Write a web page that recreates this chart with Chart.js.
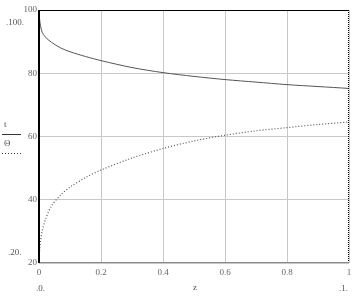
<!DOCTYPE html>
<html><head><meta charset="utf-8">
<script src="https://cdn.jsdelivr.net/npm/chart.js@4/dist/chart.umd.min.js"></script>
<style>html,body{margin:0;padding:0;background:#fff}#wrap{width:364px;height:298px}</style>
</head><body><div id="wrap"><canvas id="c" width="364" height="298"></canvas></div>
<script>
const zValues = [0,0.002,0.005,0.01,0.02,0.04,0.07,0.1,0.15,0.2,0.3,0.4,0.5,0.6,0.7,0.8,0.9,1];
const tValues = [100,97,95,93,91.5,89.8,88,86.8,85.3,84,81.8,80.2,79,78,77.2,76.4,75.8,75.2];
const thetaValues = [20,24,27,30,33.5,38,41.5,44,47,49.4,53.2,56.2,58.6,60.4,61.8,62.8,63.8,64.6];
const yTicks = [20,40,60,80,100];
const xTicks = [0,0.2,0.4,0.6,0.8,1];

const pts = v => zValues.map((z,i)=>({x:z,y:v[i]}));
const font = "Liberation Serif";

const extras = {
  id:'extras',
  afterDraw(chart){
    const ctx = chart.ctx, a = chart.chartArea;
    ctx.save();
    // frame
    ctx.lineWidth = 1;
    ctx.strokeStyle = '#000';
    ctx.beginPath(); ctx.moveTo(a.left, a.top+0.5); ctx.lineTo(a.right, a.top+0.5); ctx.stroke();
    ctx.setLineDash([1,1]);
    ctx.beginPath(); ctx.moveTo(a.right-0.5, a.top); ctx.lineTo(a.right-0.5, a.bottom); ctx.stroke();
    ctx.setLineDash([]);
    ctx.strokeStyle = '#888';
    ctx.beginPath(); ctx.moveTo(a.left, a.bottom-0.5); ctx.lineTo(a.right, a.bottom-0.5); ctx.stroke();
    ctx.strokeStyle = '#000'; ctx.lineWidth = 2;
    ctx.beginPath(); ctx.moveTo(a.left, a.top); ctx.lineTo(a.left, a.bottom); ctx.stroke();
    // labels
    ctx.fillStyle = '#555';
    ctx.font = '9px "'+font+'"';
    ctx.textBaseline = 'middle';
    ctx.textAlign = 'left';
    ctx.fillText('.100.', 6, 23);
    ctx.fillText('.20.', 8, 253);
    ctx.fillText('.0.', 36, 289);
    ctx.fillText('.1.', 339, 289);
    ctx.fillText('z', 193, 288);
    ctx.fillText('t', 4, 125);
    ctx.fillText('\u0398', 4, 144);
    ctx.strokeStyle = '#333'; ctx.lineWidth = 1;
    ctx.beginPath(); ctx.moveTo(2, 134.5); ctx.lineTo(21, 134.5); ctx.stroke();
    ctx.setLineDash([1,2]);
    ctx.beginPath(); ctx.moveTo(2, 153.5); ctx.lineTo(21, 153.5); ctx.stroke();
    ctx.restore();
  }
};

new Chart(document.getElementById('c'), {
  type:'line',
  data:{datasets:[
    {data:pts(tValues), borderColor:'#555', borderWidth:1, pointRadius:0, tension:0.3, fill:false},
    {data:pts(thetaValues), borderColor:'#555', borderWidth:1.2, borderDash:[1,2], pointRadius:0, tension:0.3, fill:false}
  ]},
  options:{
    responsive:false, animation:false,
    layout:{padding:{top:10,right:15,left:0,bottom:0}},
    plugins:{legend:{display:false},tooltip:{enabled:false}},
    scales:{
      x:{type:'linear',min:0,max:1,
        afterBuildTicks(s){s.ticks=xTicks.map(v=>({value:v}));},
        afterFit(s){s.height=35;},
        grid:{color:'#c8c8c8',drawTicks:false},
        border:{display:false},
        ticks:{color:'#666',font:{family:font,size:9},padding:4,maxRotation:0,callback:v=>String(v)}},
      y:{type:'linear',min:20,max:100,
        afterBuildTicks(s){s.ticks=yTicks.map(v=>({value:v}));},
        afterFit(s){s.width=39;},
        grid:{color:'#c8c8c8',drawTicks:false},
        border:{display:false},
        ticks:{color:'#666',font:{family:font,size:9},padding:2,callback:v=>String(v)}}
    }
  },
  plugins:[extras]
});
</script></body></html>
